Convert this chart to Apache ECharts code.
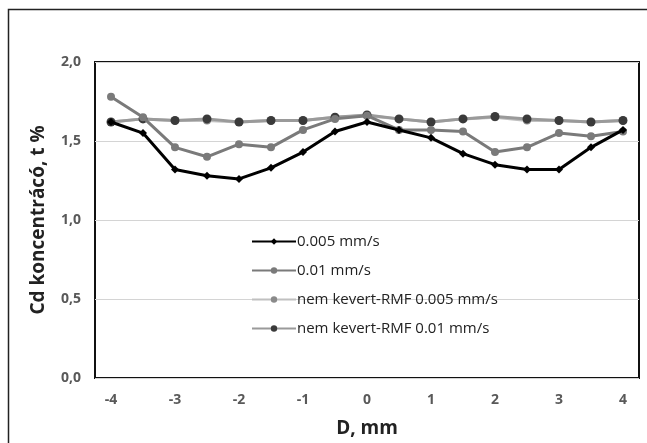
<!DOCTYPE html>
<html>
<head>
<meta charset="utf-8">
<script src="https://cdn.jsdelivr.net/npm/echarts@6/dist/echarts.min.js"></script>
<style>html,body{margin:0;padding:0;background:#fff}#c{width:647px;height:443px}</style>
</head>
<body>
<div id="c"></div>
<script>
var categories = ['-4','-3.5','-3','-2.5','-2','-1.5','-1','-0.5','0','0.5','1','1.5','2','2.5','3','3.5','4'];
var seriesNames = ['0.005 mm/s','0.01 mm/s','nem kevert-RMF 0.005 mm/s','nem kevert-RMF 0.01 mm/s'];
var s005 = [1.62,1.55,1.32,1.28,1.26,1.33,1.43,1.56,1.62,1.57,1.52,1.42,1.35,1.32,1.32,1.46,1.57];
var s001 = [1.78,1.65,1.46,1.40,1.48,1.46,1.57,1.64,1.66,1.57,1.57,1.56,1.43,1.46,1.55,1.53,1.56];
var sNem005 = [1.62,1.64,1.63,1.63,1.62,1.63,1.63,1.65,1.66,1.64,1.62,1.64,1.65,1.63,1.63,1.62,1.63];
var sNem001 = [1.62,1.64,1.63,1.64,1.62,1.63,1.63,1.65,1.665,1.64,1.62,1.64,1.655,1.64,1.63,1.62,1.63];
var yTicks = [0,0.5,1,1.5,2];

var chart = echarts.init(document.getElementById('c'), null, {renderer:'canvas'});
var FONT = 'Open Sans';
chart.setOption({
  animation:false,
  backgroundColor:'#fff',
  graphic:[{type:'rect', shape:{x:8.5,y:9.5,width:660,height:460}, style:{fill:'none',stroke:'#222',lineWidth:1.5}, z:100}],
  grid:{left:95,top:62,right:8,bottom:65,show:true,borderColor:'#111',borderWidth:2,backgroundColor:'transparent',
        containLabel:false, outerBoundsMode:'none'},
  legend:{
    orient:'vertical', left:246, top:226, itemGap:8, itemWidth:44, itemHeight:8,
    textStyle:{fontFamily:FONT,fontSize:15,color:'#222',padding:[0,0,0,-4],lineHeight:21},
    data:seriesNames
  },
  xAxis:{
    type:'category', data:categories, boundaryGap:true,
    name:'D, mm', nameLocation:'middle', nameGap:41,
    nameTextStyle:{fontFamily:FONT,fontSize:19,fontWeight:'bold',color:'#222'},
    axisLine:{show:false}, axisTick:{show:false},
    axisLabel:{interval:1, margin:15, fontFamily:FONT, fontSize:14, fontWeight:'bold', color:'#595959'}
  },
  yAxis:{
    type:'value', min:yTicks[0], max:yTicks[yTicks.length-1], interval:0.5,
    name:'Cd koncentrácó, t %', nameLocation:'middle', nameGap:47,
    nameTextStyle:{fontFamily:FONT,fontSize:19,fontWeight:'bold',color:'#222'},
    axisLine:{show:false}, axisTick:{show:false},
    axisLabel:{margin:14, fontFamily:FONT, fontSize:14, fontWeight:'bold', color:'#595959',
      formatter:function(v){return v.toFixed(1).replace('.',',');}},
    splitLine:{lineStyle:{color:'#d4d4d4',width:1}}
  },
  series:[
    {name:seriesNames[0], type:'line', data:s005, symbol:'diamond', symbolSize:8, z:5,
     lineStyle:{color:'#000',width:3}, itemStyle:{color:'#000'}},
    {name:seriesNames[1], type:'line', data:s001, symbol:'circle', symbolSize:8, z:4,
     lineStyle:{color:'#7a7a7a',width:3}, itemStyle:{color:'#7a7a7a'}},
    {name:seriesNames[2], type:'line', data:sNem005, symbol:'circle', symbolSize:8, z:2,
     lineStyle:{color:'#c0c0c0',width:3}, itemStyle:{color:'#8a8a8a'}},
    {name:seriesNames[3], type:'line', data:sNem001, symbol:'circle', symbolSize:9, z:3,
     lineStyle:{color:'#9a9a9a',width:3}, itemStyle:{color:'#3a3a3a'}}
  ]
});
</script>
</body>
</html>
